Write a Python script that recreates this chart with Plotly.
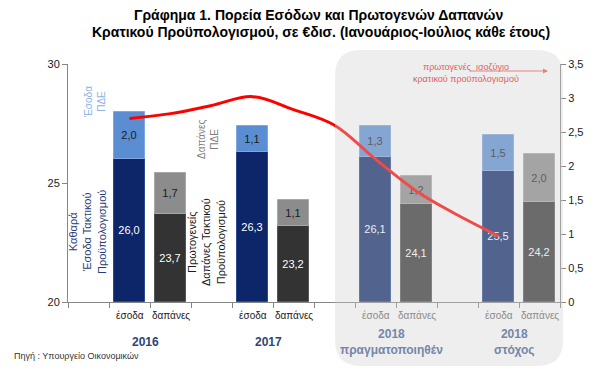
import plotly.graph_objects as go

# ---------------- data ----------------
groups = ["2016", "2017", "2018<br>πραγματοποιηθέν", "2018<br>στόχος"]
sub_labels = ["έσοδα", "δαπάνες"]
revenue_ordinary = [26.0, 26.3, 26.1, 25.5]   # Καθαρά Έσοδα Τακτικού Προϋπολογισμού
revenue_pde = [2.0, 1.1, 1.3, 1.5]            # Έσοδα ΠΔΕ
spending_ordinary = [23.7, 23.2, 24.1, 24.2]  # Πρωτογενείς Δαπάνες Τακτικού Προϋπολογισμού
spending_pde = [1.7, 1.1, 1.2, 2.0]           # Δαπάνες ΠΔΕ
# primary balance (right axis), read along the category slots 1..10
balance_slots = [1, 2, 3, 4, 5, 6, 7, 8, 9, 10]
balance_values = [2.70, 2.77, 2.89, 3.02, 2.83, 2.60, 2.10, 1.63, 1.28, 0.97]
left_ticks = [20, 25, 30]
right_ticks = [0, 0.5, 1, 1.5, 2, 2.5, 3, 3.5]

BASE = 20
FONT = "Liberation Sans, Arial, sans-serif"

def fmt(v):
    return f"{v:.1f}".replace(".", ",")

def fmt_tick(v):
    return f"{v:g}".replace(".", ",")

esoda_x = [3 * i + 1 for i in range(len(groups))]
dapanes_x = [3 * i + 2 for i in range(len(groups))]

fig = go.Figure()

bar_w = 0.75
fig.add_trace(go.Bar(
    x=esoda_x, y=[v - BASE for v in revenue_ordinary], base=[BASE] * 4,
    width=bar_w, marker=dict(color="#0c2669", line=dict(color="#2a4a8f", width=1)),
    text=[fmt(v) for v in revenue_ordinary], textposition="inside",
    insidetextanchor="middle", textfont=dict(color="white", size=11, family=FONT),
    textangle=0, showlegend=False, hoverinfo="skip"))
fig.add_trace(go.Bar(
    x=esoda_x, y=revenue_pde, base=revenue_ordinary,
    width=bar_w, marker=dict(color="#5b8dd3", line=dict(color="#7fa8e0", width=1)),
    text=[fmt(v) for v in revenue_pde], textposition="inside",
    insidetextanchor="middle", textfont=dict(color="#1a1a1a", size=11, family=FONT),
    textangle=0, showlegend=False, hoverinfo="skip"))
fig.add_trace(go.Bar(
    x=dapanes_x, y=[v - BASE for v in spending_ordinary], base=[BASE] * 4,
    width=bar_w, marker=dict(color="#333333", line=dict(color="#555555", width=1)),
    text=[fmt(v) for v in spending_ordinary], textposition="inside",
    insidetextanchor="middle", textfont=dict(color="white", size=11, family=FONT),
    textangle=0, showlegend=False, hoverinfo="skip"))
fig.add_trace(go.Bar(
    x=dapanes_x, y=spending_pde, base=spending_ordinary,
    width=bar_w, marker=dict(color="#8c8c8c", line=dict(color="#a8a8a8", width=1)),
    text=[fmt(v) for v in spending_pde], textposition="inside",
    insidetextanchor="middle", textfont=dict(color="#1a1a1a", size=11, family=FONT),
    textangle=0, showlegend=False, hoverinfo="skip"))
fig.add_trace(go.Scatter(
    x=balance_slots, y=balance_values, yaxis="y2", mode="lines",
    line=dict(color="#ff0000", width=3, shape="spline", smoothing=1.0),
    showlegend=False, hoverinfo="skip"))

# page body has an 8px offset, so margins are shifted accordingly
fig.update_layout(
    width=611, height=392,
    margin=dict(l=60, r=59, t=56, b=98),
    paper_bgcolor="white", plot_bgcolor="rgba(0,0,0,0)",
    barmode="overlay", bargap=0,
    font=dict(family=FONT, size=11, color="#1a1a1a"),
    xaxis=dict(range=[-0.5, 11.5], showgrid=False, zeroline=False,
               showline=True, linecolor="#868686", linewidth=1,
               tickvals=[], showticklabels=False,
               minor=dict(tick0=-0.5, dtick=1, ticks="outside", ticklen=5,
                          tickcolor="#868686", showgrid=False)),
    yaxis=dict(range=[20, 30], tickvals=left_ticks, ticktext=[str(t) for t in left_ticks],
               showgrid=False, zeroline=False, showline=True, linecolor="#868686",
               ticks="outside", ticklen=5, tickcolor="#868686",
               tickfont=dict(size=11, color="#1a1a1a")),
    yaxis2=dict(range=[0, 3.5], overlaying="y", side="right",
                tickvals=right_ticks, ticktext=[fmt_tick(t) for t in right_ticks],
                showgrid=False, zeroline=False, showline=True, linecolor="#868686",
                ticks="outside", ticklen=5, tickcolor="#868686",
                tickfont=dict(size=11, color="#1a1a1a")),
)

# helpers: screen pixel -> paper coordinates (plot area spans x 68..560, y 64..302 on screen)
W, H = 492.0, 238.0
def px(xp):
    return (xp - 68) / W
def py(yp):
    return (302 - yp) / H
x0, x1, yt, yb = px(335), px(563), py(50), py(366)
rx, ry = 26 / W, 26 / H
path = (f"M {x0+rx},{yt} L {x1-rx},{yt} Q {x1},{yt} {x1},{yt-ry} "
        f"L {x1},{yb+ry} Q {x1},{yb} {x1-rx},{yb} L {x0+rx},{yb} "
        f"Q {x0},{yb} {x0},{yb+ry} L {x0},{yt-ry} Q {x0},{yt} {x0+rx},{yt} Z")
fig.add_shape(type="path", path=path, xref="paper", yref="paper",
              fillcolor="rgba(208,208,208,0.36)", line=dict(width=0), layer="above")

ann = []
ann.append(dict(text="<b>Γράφημα 1. Πορεία Εσόδων και Πρωτογενών Δαπανών</b>",
                x=px(318), y=py(15), font=dict(size=14, color="#000000", family=FONT)))
ann.append(dict(text="<b>Κρατικού Προϋπολογισμού, σε €δισ. (Ιανουάριος-Ιούλιος κάθε έτους)</b>",
                x=px(321), y=py(32), font=dict(size=14, color="#000000", family=FONT)))

for i in range(len(groups)):
    col = "#1a1a1a" if i < 2 else "#8a8a8a"
    ann.append(dict(text=sub_labels[0], x=esoda_x[i], y=py(315), xref="x",
                    font=dict(size=10, color=col, family=FONT)))
    ann.append(dict(text=sub_labels[1], x=dapanes_x[i], y=py(315), xref="x",
                    font=dict(size=10, color=col, family=FONT)))
    gcol = "#2c4676" if i < 2 else "#7387aa"
    ann.append(dict(text=f"<b>{groups[i]}</b>", x=esoda_x[i] + 0.4, y=py(342), xref="x",
                    font=dict(size=12, color=gcol, family=FONT)))

ann.append(dict(text="Έσοδα<br>ΠΔΕ", x=px(95), y=py(102), textangle=-90,
                font=dict(size=10, color="#8db3e2", family=FONT)))
ann.append(dict(text="Καθαρά<br>Έσοδα Τακτικού<br>Προϋπολογισμού", x=px(88), y=py(232),
                textangle=-90, font=dict(size=11, color="#1f3d7a", family=FONT)))
ann.append(dict(text="Δαπάνες<br>ΠΔΕ", x=px(208), y=py(140), textangle=-90,
                font=dict(size=10, color="#808080", family=FONT)))
ann.append(dict(text="Πρωτογενείς<br>Δαπάνες Τακτικού<br>Προϋπολογισμού", x=px(206), y=py(242),
                textangle=-90, font=dict(size=11, color="#1a1a1a", family=FONT)))
ann.append(dict(text="πρωτογενές  ισοζύγιο<br>κρατικού προϋπολογισμού", x=px(466), y=py(73),
                font=dict(size=9, color="#e06060", family=FONT)))
ann.append(dict(text="", x=px(548), y=py(71), ax=-80, ay=0, axref="pixel", ayref="pixel",
                showarrow=True, arrowhead=2, arrowsize=1, arrowwidth=1,
                arrowcolor="#e88080"))
ann.append(dict(text="Πηγή : Υπουργείο Οικονομικών", x=px(12), y=py(356), xanchor="left",
                font=dict(size=9, color="#333333", family=FONT)))

for a in ann:
    a.setdefault("xref", "paper")
    a.setdefault("yref", "paper")
    a.setdefault("showarrow", False)
    a.setdefault("xanchor", "center")
    a.setdefault("yanchor", "middle")

fig.update_layout(annotations=ann)
fig.write_html("out.html")
